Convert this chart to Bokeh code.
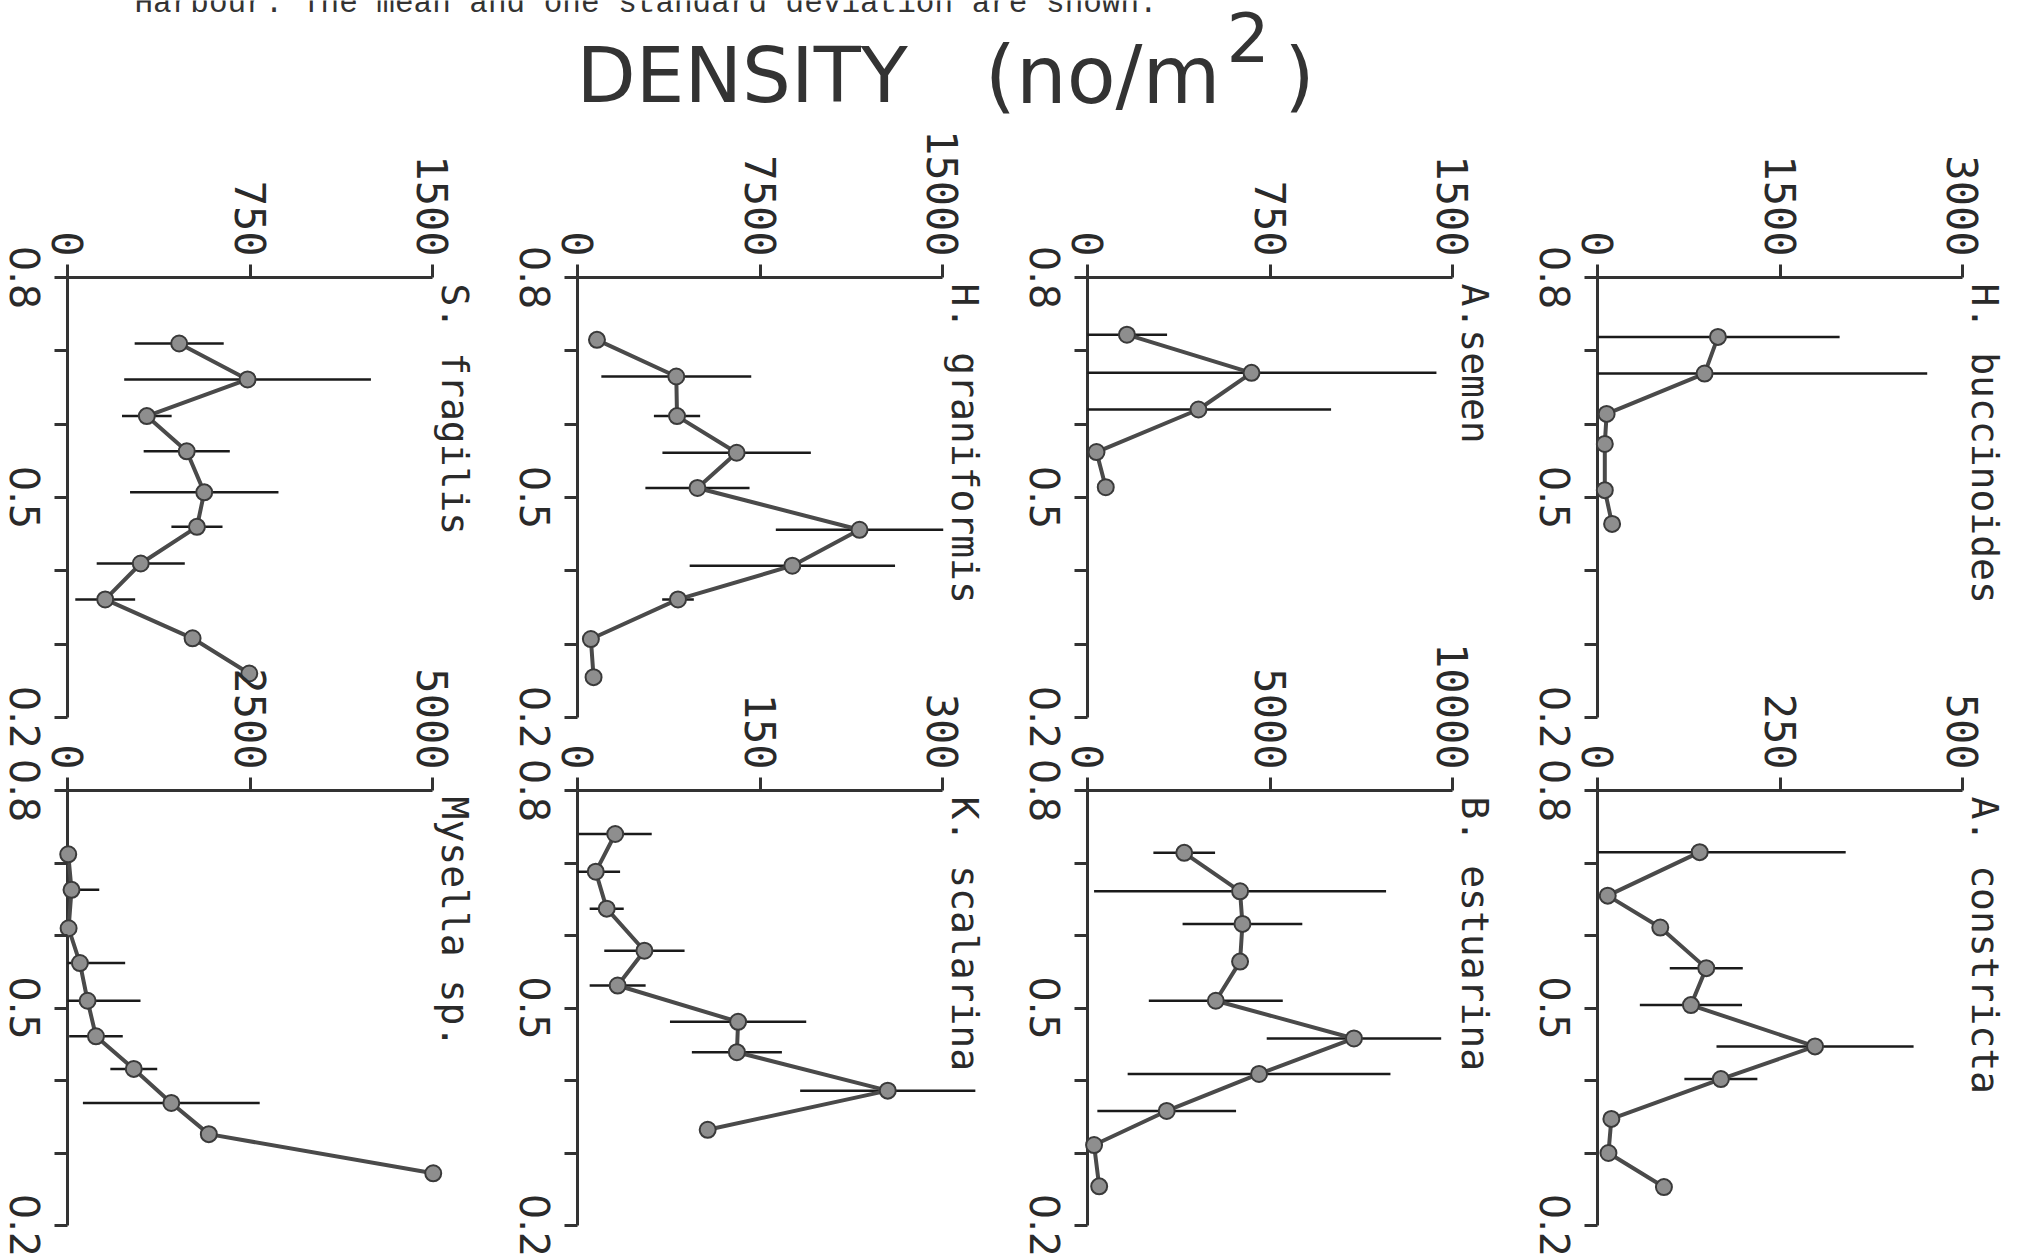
import math
from bokeh.plotting import figure
from bokeh.layouts import column, row
from bokeh.models import Range1d, FixedTicker, Label, CustomJSTickFormatter
from bokeh.embed import file_html
from bokeh.resources import INLINE

# ------------------------------------------------------------------ data
CAPTION = "Harbour.  The mean and one standard deviation are shown."
TITLE_MAIN = "DENSITY"
TITLE_UNIT = "(no/m"
TITLE_SUP = "2"
TITLE_CLOSE = ")"

Y_TICKS = [0.2, 0.5, 0.8]
Y_ALL_TICKS = [0.2, 0.3, 0.4, 0.5, 0.6, 0.7, 0.8]

# column 1 (left)
sfra_name = "S. fragilis"
sfra_max = 1500
sfra_pos = [0.710, 0.661, 0.611, 0.563, 0.507, 0.460, 0.410, 0.361, 0.308, 0.260]
sfra_mean = [459, 740, 326, 490, 562, 532, 301, 155, 514, 747]
sfra_sd = [183, 507, 102, 177, 305, 105, 181, 123, 0, 0]

mys_name = "Mysella sp."
mys_max = 5000
mys_pos = [0.712, 0.663, 0.610, 0.562, 0.510, 0.461, 0.416, 0.369, 0.326, 0.272]
mys_mean = [10, 55, 15, 170, 275, 390, 908, 1422, 1936, 5010]
mys_sd = [0, 380, 0, 620, 725, 367, 321, 1211, 0, 0]

# column 2
hgra_name = "H. graniformis"
hgra_max = 15000
hgra_pos = [0.715, 0.665, 0.611, 0.561, 0.513, 0.456, 0.407, 0.361, 0.307, 0.255]
hgra_mean = [800, 4060, 4090, 6540, 4930, 11590, 8830, 4130, 550, 660]
hgra_sd = [0, 3080, 950, 3050, 2140, 3440, 4220, 650, 0, 0]

ksca_name = "K. scalarina"
ksca_max = 300
ksca_pos = [0.740, 0.688, 0.637, 0.579, 0.531, 0.481, 0.439, 0.386, 0.332]
ksca_mean = [31, 15, 24, 55, 33, 132, 131, 255, 107]
ksca_sd = [30, 20, 14, 33, 23, 56, 37, 72, 0]

# column 3
asem_name = "A.semen"
asem_max = 1500
asem_pos = [0.722, 0.670, 0.620, 0.562, 0.514]
asem_mean = [162, 674, 456, 37, 75]
asem_sd = [165, 760, 545, 0, 0]

best_name = "B. estuarina"
best_max = 10000
best_pos = [0.714, 0.661, 0.616, 0.564, 0.510, 0.458, 0.409, 0.358, 0.311, 0.254]
best_mean = [2650, 4180, 4245, 4180, 3515, 7300, 4700, 2170, 180, 320]
best_sd = [845, 4000, 1640, 0, 1835, 2390, 3600, 1900, 0, 0]

# column 4 (right)
hbuc_name = "H. buccinoides"
hbuc_max = 3000
hbuc_pos = [0.719, 0.669, 0.614, 0.573, 0.510, 0.464]
hbuc_mean = [990, 880, 75, 60, 60, 120]
hbuc_sd = [1000, 1830, 0, 0, 0, 0]

acon_name = "A. constricta"
acon_max = 500
acon_pos = [0.715, 0.655, 0.611, 0.555, 0.504, 0.447, 0.402, 0.347, 0.300, 0.253]
acon_mean = [140, 14, 86, 149, 128, 298, 169, 19, 15, 91]
acon_sd = [200, 0, 0, 50, 70, 135, 50, 0, 0, 0]

ROW1 = [
    (sfra_name, sfra_max, sfra_pos, sfra_mean, sfra_sd),
    (hgra_name, hgra_max, hgra_pos, hgra_mean, hgra_sd),
    (asem_name, asem_max, asem_pos, asem_mean, asem_sd),
    (hbuc_name, hbuc_max, hbuc_pos, hbuc_mean, hbuc_sd),
]
ROW2 = [
    (mys_name, mys_max, mys_pos, mys_mean, mys_sd),
    (ksca_name, ksca_max, ksca_pos, ksca_mean, ksca_sd),
    (best_name, best_max, best_pos, best_mean, best_sd),
    (acon_name, acon_max, acon_pos, acon_mean, acon_sd),
]

# ------------------------------------------------------------------ layout
FIG_W = [510, 510, 510, 520]
ROW_SHIFT = -23   # rows start left of the page edge so the first panel sits near it
LB = 80           # left border (holds the rotated 0.8/0.5/0.2 labels)
PW = 365          # pixels for 0 .. max
PL, PR = 10, 48   # frame padding left / right of the axis span
PT, PB = 10, 32   # frame padding above 0.8 / below 0.2
ROW_T = [141, 150]
ROW_PH = [440, 435]
TITLE_H = 130

INK = "#2a2a2a"
AX = "#333333"
TICK_FONT = "DejaVu Sans Mono"
Y_FONT = "DejaVu Sans"
Y_FS = 40
Y_HALF_LEN = (2 * 0.636 + 0.318) * Y_FS / 2   # half the length of a rotated "0.8", px


def make_panel(ci, ri, name, dmax, pos, mean, sd):
    fw = FIG_W[ci]
    ph = ROW_PH[ri]
    rb = fw - LB - (PW + PL + PR)
    fh = ROW_T[ri] + PT + ph + PB
    xl = PL * dmax / PW
    xr = PR * dmax / PW
    yt = PT * 0.6 / ph
    yb = PB * 0.6 / ph
    p = figure(width=fw, height=fh,
               x_range=Range1d(-xl, dmax + xr), y_range=Range1d(0.2 - yb, 0.8 + yt),
               x_axis_location="above", y_axis_location="left",
               output_backend="svg", toolbar_location=None,
               min_border_left=LB, min_border_right=rb,
               min_border_top=ROW_T[ri], min_border_bottom=0,
               background_fill_color=None, border_fill_color=None,
               outline_line_color=None)
    p.xgrid.visible = False
    p.ygrid.visible = False

    # density axis (top)
    xa = p.xaxis[0]
    xa.ticker = FixedTicker(ticks=[0, dmax / 2, dmax])
    xa.axis_line_color = None
    xa.major_label_orientation = -math.pi / 2
    xa.major_tick_in = PT
    xa.major_tick_out = 3
    xa.minor_tick_line_color = None
    xa.major_tick_line_width = 3
    xa.major_tick_line_color = AX
    xa.major_label_standoff = 8
    xa.major_label_text_font = TICK_FONT
    xa.major_label_text_font_size = "42px"
    xa.major_label_text_color = INK

    # left axis: tick marks every 0.1, rotated labels centred on 0.2 / 0.5 / 0.8
    d = Y_HALF_LEN * 0.6 / ph
    ya = p.yaxis[0]
    ya.ticker = FixedTicker(ticks=[t - d for t in Y_TICKS], minor_ticks=Y_ALL_TICKS)
    ya.formatter = CustomJSTickFormatter(args=dict(d=d), code="return (tick + d).toFixed(1)")
    ya.axis_line_color = None
    ya.major_tick_line_color = None
    ya.major_tick_in = 0
    ya.major_tick_out = 0
    ya.minor_tick_in = PL
    ya.minor_tick_out = 3
    ya.minor_tick_line_width = 3
    ya.minor_tick_line_color = AX
    ya.major_label_orientation = -math.pi / 2
    ya.major_label_standoff = 40 - PL
    ya.major_label_text_font = Y_FONT
    ya.major_label_text_font_size = f"{Y_FS}px"
    ya.major_label_text_color = INK

    # axis lines, along the axis bounds
    p.segment(x0=[0, 0], y0=[Y_TICKS[0], Y_TICKS[-1]], x1=[0, dmax],
              y1=[Y_TICKS[-1], Y_TICKS[-1]], line_color=AX, line_width=3)

    keep = [i for i in range(len(sd)) if sd[i] > 0]
    lo = [max(0, mean[i] - sd[i]) for i in keep]
    hi = [mean[i] + sd[i] for i in keep]
    yy = [pos[i] for i in keep]
    if keep:
        p.segment(x0=lo, y0=yy, x1=hi, y1=yy, line_color="#1a1a1a", line_width=2.5)
    p.line(mean, pos, line_color="#4a4a4a", line_width=4)
    p.scatter(mean, pos, marker="circle", size=16, fill_color="#8e8e8e",
              line_color="#3a3a3a", line_width=2)

    p.add_layout(Label(x=dmax, y=0.8, x_offset=22, y_offset=-6, text=name,
                       angle=-math.pi / 2, text_align="left", text_baseline="middle",
                       text_font=TICK_FONT, text_font_size="38px", text_color=INK))
    return p


row1 = [make_panel(i, 0, *ROW1[i]) for i in range(4)]
row2 = [make_panel(i, 1, *ROW2[i]) for i in range(4)]

TW = 2030
t = figure(width=TW, height=TITLE_H, x_range=Range1d(0, TW), y_range=Range1d(0, TITLE_H),
           x_axis_type=None, y_axis_type=None, min_border=0,
           output_backend="svg", toolbar_location=None, outline_line_color=None,
           background_fill_color=None, border_fill_color=None)
t.xgrid.visible = False
t.ygrid.visible = False
base = TITLE_H   # page y of the title figure's bottom edge
t.add_layout(Label(x=134, y=base - 3, text=CAPTION, text_font="Liberation Mono",
                   text_font_size="31px", text_color="#333333", text_baseline="middle"))
t.add_layout(Label(x=576, y=base - 75, text=TITLE_MAIN, text_font="DejaVu Sans",
                   text_font_size="77px", text_color="#333333", text_baseline="middle"))
t.add_layout(Label(x=1220, y=base - 75, text=TITLE_UNIT, text_font="DejaVu Sans",
                   text_font_size="80px", text_color="#333333", text_baseline="middle",
                   text_align="right"))
t.add_layout(Label(x=1226, y=base - 36, text=TITLE_SUP, text_font="DejaVu Sans",
                   text_font_size="68px", text_color="#333333", text_baseline="middle"))
t.add_layout(Label(x=1284, y=base - 75, text=TITLE_CLOSE, text_font="DejaVu Sans",
                   text_font_size="77px", text_color="#333333", text_baseline="middle"))

r1 = row(*row1, margin=(-4, 0, 0, ROW_SHIFT))
r2 = row(*row2, margin=(-119, 0, 0, ROW_SHIFT))
layout = column(t, r1, r2)

open("out.html", "w").write(file_html(layout, INLINE))
